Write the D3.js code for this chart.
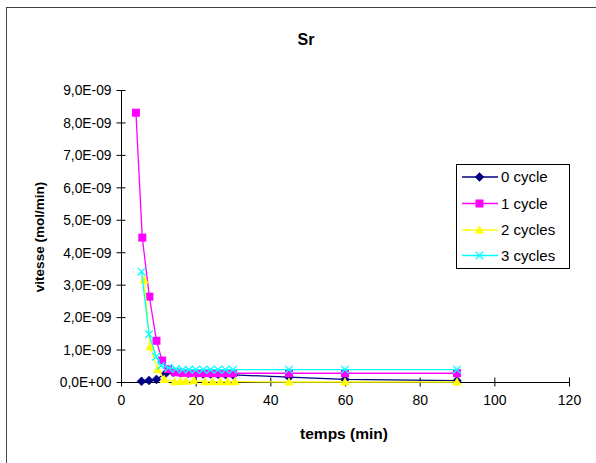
<!DOCTYPE html>
<html>
<head>
<meta charset="utf-8">
<script src="https://cdn.jsdelivr.net/npm/d3@7"></script>
<style>
  html, body { margin: 0; padding: 0; background: #fff; }
  svg { display: block; font-family: "Liberation Sans", Arial, sans-serif; }
</style>
</head>
<body>
<svg id="chart" width="596" height="463"></svg>
<script>
// ---- data (values in mol/min) ----
const seriesNames = ["0 cycle", "1 cycle", "2 cycles", "3 cycles"];

const t0 = [5.5, 7.5, 9.5, 12, 14, 16, 18, 20, 22, 24, 26, 28, 30, 45, 60, 90];
const v0 = [0.02e-9, 0.05e-9, 0.08e-9, 0.27e-9, 0.30e-9, 0.28e-9, 0.27e-9, 0.26e-9, 0.25e-9, 0.25e-9, 0.24e-9, 0.23e-9, 0.22e-9, 0.15e-9, 0.08e-9, 0.04e-9];

const t1 = [4, 5.7, 7.6, 9.5, 11, 12.6, 14.5, 16.5, 18.5, 20.5, 22.5, 24.5, 26.5, 28.5, 30, 45, 60, 90];
const v1 = [8.3e-9, 4.45e-9, 2.63e-9, 1.27e-9, 0.66e-9, 0.40e-9, 0.30e-9, 0.28e-9, 0.27e-9, 0.27e-9, 0.27e-9, 0.27e-9, 0.27e-9, 0.27e-9, 0.27e-9, 0.27e-9, 0.27e-9, 0.27e-9];

const t2 = [6.2, 7.8, 9.8, 11.6, 14.4, 15.9, 17.4, 19.5, 22.5, 24.6, 26.6, 28.6, 30.5, 45, 60, 90];
const v2 = [3.15e-9, 1.09e-9, 0.39e-9, 0.08e-9, 0.01e-9, 0.02e-9, 0.03e-9, 0.04e-9, 0.01e-9, 0.01e-9, 0.01e-9, 0.01e-9, 0.01e-9, 0, 0, 0];

const t3 = [5.5, 7.5, 9.4, 10.7, 12.7, 14.7, 16.5, 18.2, 20, 22, 24, 26, 28, 30, 45, 60, 90];
const v3 = [3.4e-9, 1.47e-9, 0.78e-9, 0.50e-9, 0.44e-9, 0.40e-9, 0.38e-9, 0.38e-9, 0.38e-9, 0.38e-9, 0.38e-9, 0.38e-9, 0.38e-9, 0.38e-9, 0.38e-9, 0.38e-9, 0.38e-9];

const xTicks = [0, 20, 40, 60, 80, 100, 120];
const yTicks = [0, 1e-9, 2e-9, 3e-9, 4e-9, 5e-9, 6e-9, 7e-9, 8e-9, 9e-9];
const yTickLabels = ["0,0E+00", "1,0E-09", "2,0E-09", "3,0E-09", "4,0E-09", "5,0E-09", "6,0E-09", "7,0E-09", "8,0E-09", "9,0E-09"];

const colors = ["#000080", "#FF00FF", "#FFFF00", "#00FFFF"];
const markers = ["diamond", "square", "triangle", "x"];

// ---- drawing ----
const svg = d3.select("#chart");
const x = d3.scaleLinear().domain([0, 120]).range([121, 569]);
const y = d3.scaleLinear().domain([0, 9e-9]).range([382, 90]);

// outer chart border
svg.append("rect").attr("x", 6.5).attr("y", 7.5).attr("width", 620).attr("height", 480)
  .attr("fill", "none").attr("stroke", "#444").attr("stroke-width", 1);

// title
svg.append("text").attr("x", 306).attr("y", 45).attr("text-anchor", "middle")
  .attr("font-size", 16).attr("font-weight", "bold").text("Sr");

// axes
const xAxis = d3.axisBottom(x).tickValues(xTicks).tickSize(0).tickFormat(d3.format("d"));
const gx = svg.append("g").attr("transform", `translate(0,${y(0)})`).call(xAxis);
gx.select(".domain").attr("stroke", "#000");
gx.selectAll(".tick text").attr("font-size", 14).attr("font-family", "Liberation Sans, Arial, sans-serif")
  .attr("fill", "#000").attr("y", 23).attr("dy", 0);
gx.selectAll(".tick").append("line").attr("y1", -4.5).attr("y2", 4.5).attr("stroke", "#000");

const yAxis = d3.axisLeft(y).tickValues(yTicks).tickSize(0).tickFormat((d, i) => yTickLabels[i]);
const gy = svg.append("g").attr("transform", `translate(${x(0)},0)`).call(yAxis);
gy.select(".domain").attr("stroke", "#000");
gy.selectAll(".tick text").attr("font-size", 13.8).attr("font-family", "Liberation Sans, Arial, sans-serif")
  .attr("fill", "#000").attr("x", -9.5).attr("dy", "0.35em");
gy.selectAll(".tick").append("line").attr("x1", -4.5).attr("x2", 4.5).attr("stroke", "#000");

// axis titles
svg.append("text").attr("x", 344).attr("y", 439).attr("text-anchor", "middle")
  .attr("font-size", 15.5).attr("font-weight", "bold").text("temps (min)");
svg.append("text").attr("transform", "translate(44,237) rotate(-90)").attr("text-anchor", "middle")
  .attr("font-size", 13.5).attr("font-weight", "bold").text("vitesse (mol/min)");

// marker drawing
function drawMarker(g, type, color) {
  if (type === "diamond") {
    g.append("path").attr("d", "M0,-4.5L4.5,0L0,4.5L-4.5,0Z").attr("fill", color).attr("stroke", color).attr("stroke-width", 0.5);
  } else if (type === "square") {
    g.append("rect").attr("x", -4).attr("y", -4).attr("width", 8).attr("height", 8).attr("fill", color);
  } else if (type === "triangle") {
    g.append("path").attr("d", "M0,-4.8L4.6,3.6L-4.6,3.6Z").attr("fill", color);
  } else {
    g.append("path").attr("d", "M-3.8,-3.8L3.8,3.8M-3.8,3.8L3.8,-3.8").attr("stroke", color).attr("stroke-width", 1.3).attr("fill", "none");
  }
}

const allSeries = [
  t0.map((t, i) => [t, v0[i]]),
  t1.map((t, i) => [t, v1[i]]),
  t2.map((t, i) => [t, v2[i]]),
  t3.map((t, i) => [t, v3[i]])
];

const line = d3.line().x(d => x(d[0])).y(d => y(d[1]));
allSeries.forEach((pts, si) => {
  const g = svg.append("g");
  g.append("path").datum(pts).attr("d", line).attr("fill", "none")
    .attr("stroke", colors[si]).attr("stroke-width", 1.3);
  pts.forEach(p => {
    const mg = g.append("g").attr("transform", `translate(${x(p[0])},${y(p[1])})`);
    drawMarker(mg, markers[si], colors[si]);
  });
});

// legend
const lg = svg.append("g");
lg.append("rect").attr("x", 456.5).attr("y", 164.5).attr("width", 113).attr("height", 104)
  .attr("fill", "#fff").attr("stroke", "#000").attr("stroke-width", 1);
const legY = [177, 203.5, 230, 255.5];
seriesNames.forEach((name, i) => {
  lg.append("line").attr("x1", 462).attr("x2", 498).attr("y1", legY[i]).attr("y2", legY[i])
    .attr("stroke", colors[i]).attr("stroke-width", 1.3);
  const mg = lg.append("g").attr("transform", `translate(479.5,${legY[i]})`);
  drawMarker(mg, markers[i], colors[i]);
  lg.append("text").attr("x", 501).attr("y", legY[i]).attr("dy", "0.36em")
    .attr("font-size", 15).text(name);
});
</script>
</body>
</html>
